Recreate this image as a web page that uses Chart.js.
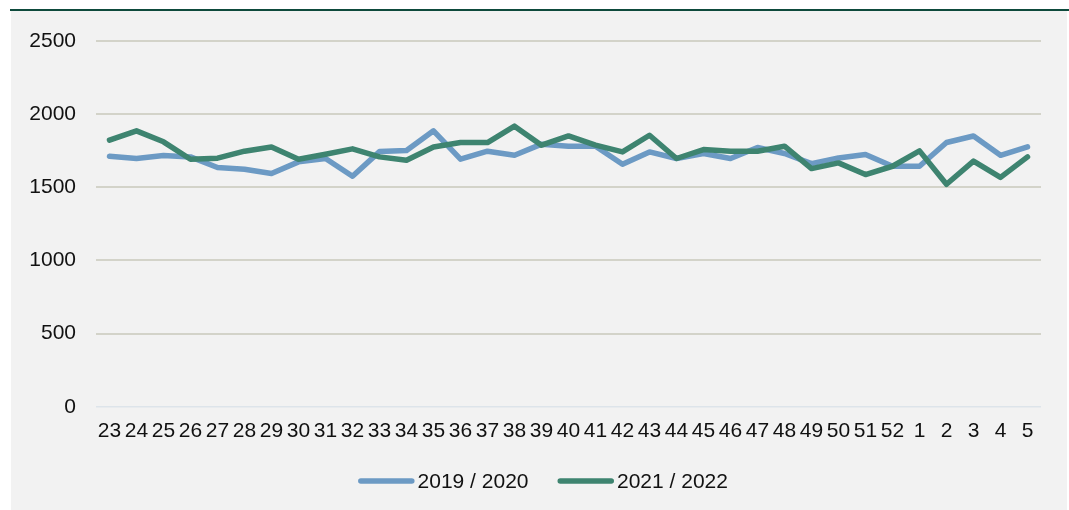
<!DOCTYPE html>
<html>
<head>
<meta charset="utf-8">
<script src="https://cdn.jsdelivr.net/npm/chart.js@4/dist/chart.umd.min.js"></script>
<style>
  html, body { margin: 0; padding: 0; background: #ffffff; }
  #wrap { width: 1069px; height: 510px; position: relative; }
</style>
</head>
<body>
<div id="wrap"><canvas id="c" width="1069" height="510"></canvas></div>
<script>
const weeks = ['23','24','25','26','27','28','29','30','31','32','33','34','35','36','37','38','39','40','41','42','43','44','45','46','47','48','49','50','51','52','1','2','3','4','5'];
const series2019 = [1712,1697,1717,1708,1635,1623,1594,1674,1697,1576,1744,1751,1886,1692,1747,1719,1795,1781,1781,1658,1742,1697,1731,1697,1772,1731,1662,1701,1724,1644,1644,1806,1851,1719,1776];
const series2021 = [1822,1886,1811,1692,1699,1747,1776,1692,1726,1763,1708,1685,1776,1806,1806,1918,1788,1851,1788,1742,1856,1697,1758,1747,1747,1781,1628,1667,1587,1644,1749,1521,1679,1568,1708];
const yTicks = [0, 500, 1000, 1500, 2000, 2500];
const label2019 = '2019 / 2020';
const label2021 = '2021 / 2022';

const FONT = '"Liberation Sans", Arial, sans-serif';
const FSIZE = 21;

const bgPlugin = {
  id: 'bg',
  beforeDraw(chart) {
    const ctx = chart.ctx;
    ctx.save();
    ctx.fillStyle = '#ffffff';
    ctx.fillRect(0, 0, chart.width, chart.height);
    ctx.fillStyle = '#f2f2f2';
    ctx.fillRect(11, 10, 1056, 500);
    ctx.fillStyle = '#0e4a3c';
    ctx.fillRect(10, 9, 1059, 2);
    ctx.restore();
  }
};

const legendPlugin = {
  id: 'customLegend',
  afterDraw(chart) {
    const ctx = chart.ctx;
    ctx.save();
    ctx.font = FSIZE + 'px ' + FONT;
    ctx.textBaseline = 'middle';
    const lineLen = 51, cap = 2.75, gapText = 3, gapItem = 29;
    const items = chart.data.datasets.map(d => ({label: d.label, color: d.borderColor, w: ctx.measureText(d.label).width}));
    let total = 0;
    items.forEach((it, i) => { total += cap*2 + lineLen + gapText + it.w + (i < items.length - 1 ? gapItem : 0); });
    let x = 543 - total / 2;
    const y = 481;
    items.forEach(it => {
      ctx.strokeStyle = it.color;
      ctx.lineWidth = 5.5;
      ctx.lineCap = 'round';
      ctx.beginPath();
      ctx.moveTo(x + cap, y);
      ctx.lineTo(x + cap + lineLen, y);
      ctx.stroke();
      x += cap*2 + lineLen + gapText;
      ctx.fillStyle = '#111111';
      ctx.fillText(it.label, x, y + 1);
      x += it.w + gapItem;
    });
    ctx.restore();
  }
};

new Chart(document.getElementById('c'), {
  type: 'line',
  data: {
    labels: weeks,
    datasets: [
      { label: label2019, data: series2019, borderColor: '#6c9ac4', backgroundColor: '#6c9ac4', borderWidth: 5.5, pointRadius: 0, tension: 0, borderCapStyle: 'round', borderJoinStyle: 'round', order: 1 },
      { label: label2021, data: series2021, borderColor: '#3e8470', backgroundColor: '#3e8470', borderWidth: 5.5, pointRadius: 0, tension: 0, borderCapStyle: 'round', borderJoinStyle: 'round', order: 0 }
    ]
  },
  options: {
    responsive: false,
    animation: false,
    devicePixelRatio: 1,
    layout: { padding: { left: 0, right: 28, top: 41, bottom: 54 } },
    plugins: { legend: { display: false }, tooltip: { enabled: false } },
    scales: {
      x: {
        offset: true,
        grid: { display: false, drawTicks: false },
        border: { display: false },
        ticks: { autoSkip: false, maxRotation: 0, minRotation: 0, padding: 12, color: '#111111', font: { family: FONT, size: FSIZE } }
      },
      y: {
        min: 0, max: 2500,
        afterFit(scale) { scale.width = 96; },
        afterBuildTicks(scale) { scale.ticks = yTicks.map(v => ({ value: v })); },
        grid: {
          drawTicks: false,
          color: ctx => (ctx.tick && ctx.tick.value === 0) ? '#dde4ea' : '#d3d3c9',
          lineWidth: ctx => (ctx.tick && ctx.tick.value === 0) ? 1.5 : 2
        },
        border: { display: false },
        ticks: { padding: 20, color: '#111111', font: { family: FONT, size: FSIZE }, callback: v => String(v) }
      }
    }
  },
  plugins: [bgPlugin, legendPlugin]
});
</script>
</body>
</html>
